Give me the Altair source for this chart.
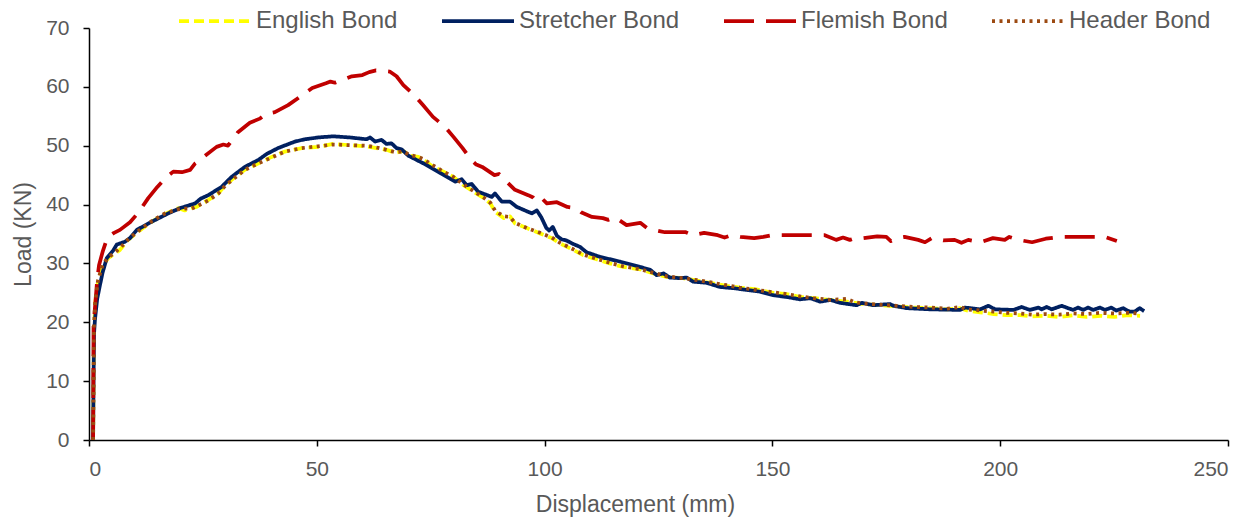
import altair as alt
import pandas as pd

series_names = ["English Bond", "Stretcher Bond", "Flemish Bond", "Header Bond"]
series_colors = ["#FFFF00", "#002060", "#C00000", "#9C4A12"]
series_dashes = [[10, 5], [1, 0], [30, 12], [3, 4.5]]

x_ticks = [0, 50, 100, 150, 200, 250]
y_ticks = [0, 10, 20, 30, 40, 50, 60, 70]

english = [
    (0.9, 0), (1.0, 10), (1.1, 19), (1.4, 23.5), (2.0, 27), (3.0, 29.5), (4.2, 30.9), (5.7, 31.7),
    (6.8, 32.3), (8.6, 34.0), (10.8, 35.4), (13.8, 37.1), (16.7, 38.4), (19.6, 39.4), (21.0, 39.0),
    (22.5, 39.4), (23.6, 39.6), (26.2, 40.8), (28.4, 41.9), (29.9, 43.3), (32.1, 44.7), (34.2, 45.9),
    (37.2, 47.0), (40.1, 48.1), (43.0, 49.0), (46.7, 49.6), (50.3, 49.8), (53.6, 50.3), (57.3, 50.1),
    (60.9, 49.9), (63.1, 49.6), (65.3, 49.3), (67.2, 48.8), (69.0, 49.1), (70.5, 48.3), (72.3, 48.1),
    (73.4, 47.6), (75.6, 46.4), (77.8, 45.6), (80.0, 44.7), (82.2, 43.3), (84.4, 42.2), (86.6, 41.1),
    (88.1, 40.2), (89.1, 38.8), (91.0, 37.7), (92.4, 38.0), (93.5, 36.8), (96.1, 36.0), (99.0, 35.1),
    (101.6, 34.3), (103.4, 33.4), (106.3, 32.3), (108.5, 31.4), (111.4, 30.7), (114.3, 30.0),
    (117.3, 29.4), (121.0, 29.0), (123.9, 28.3), (126.8, 27.7), (130.4, 27.5), (134.0, 27.0),
    (137.0, 26.6), (139.9, 26.2), (142.8, 25.9), (146.5, 25.6), (150.2, 25.0), (153.1, 24.8),
    (156.1, 24.3), (159.0, 24.1), (162.7, 23.8), (166.3, 23.5), (170.0, 23.1), (173.6, 22.9),
    (177.3, 22.7), (180.9, 22.5), (184.6, 22.4), (188.3, 22.2), (191.2, 22.4), (192.7, 22.0),
    (195.6, 21.7), (198.6, 21.4), (201.5, 21.2), (204.4, 21.2), (207.0, 21.0), (210.0, 21.1),
    (213.0, 20.9), (216.0, 21.2), (219.0, 20.9), (222.0, 21.1), (225.0, 20.9), (228.0, 21.2),
    (230.7, 21.1),
]

stretcher = [
    (0.9, 0), (1.0, 10), (1.1, 18), (1.3, 20.4), (1.8, 24), (2.4, 26.3), (3.0, 28.5), (3.9, 30.9),
    (5.3, 32.2), (6.1, 33.2), (7.9, 33.7), (9.0, 34.3), (10.5, 35.7), (13.8, 37.1), (17.4, 38.5),
    (20.0, 39.4), (23.3, 40.2), (24.5, 41.0), (26.2, 41.6), (29.1, 43.0), (31.3, 44.7), (34.2, 46.4),
    (37.2, 47.6), (39.0, 48.6), (41.5, 49.6), (45.2, 50.7), (47.4, 51.1), (50.3, 51.4), (53.6, 51.6),
    (57.3, 51.4), (60.9, 51.1), (61.7, 51.4), (62.8, 50.7), (64.2, 51.0), (65.3, 50.3), (66.4, 50.4),
    (67.5, 49.6), (68.6, 49.4), (70.1, 48.3), (73.4, 47.0), (77.0, 45.4), (80.4, 43.9), (81.8, 44.3),
    (82.9, 43.3), (84.0, 43.5), (85.4, 42.2), (88.4, 41.3), (89.1, 41.9), (90.6, 40.5), (92.4, 40.5),
    (93.9, 39.6), (97.2, 38.5), (98.3, 39.0), (99.3, 37.8), (100.4, 36.0), (101.0, 35.6), (101.8, 36.2),
    (102.7, 34.7), (103.7, 34.1), (104.8, 33.9), (106.3, 33.3), (107.8, 32.8), (109.2, 31.9),
    (112.2, 31.1), (116.6, 30.3), (121.0, 29.4), (123.2, 28.9), (124.6, 28.0), (126.1, 28.3),
    (127.5, 27.6), (129.7, 27.5), (131.2, 27.6), (132.6, 26.9), (135.6, 26.7), (138.5, 26.0),
    (141.4, 25.8), (144.4, 25.5), (147.3, 25.2), (150.2, 24.6), (153.1, 24.3), (156.1, 23.9),
    (158.3, 24.1), (160.5, 23.5), (162.7, 23.8), (164.9, 23.3), (168.5, 22.9), (169.6, 23.3),
    (172.2, 22.9), (175.8, 23.1), (176.6, 22.8), (179.5, 22.4), (184.6, 22.2), (191.2, 22.1),
    (192.3, 22.5), (195.6, 22.2), (197.4, 22.8), (198.9, 22.2), (202.9, 22.1), (204.7, 22.6),
    (206.5, 22.1), (208.4, 22.5), (209.1, 22.2), (210.2, 22.6), (211.3, 22.2), (213.5, 22.8),
    (214.9, 22.4), (216.0, 22.1), (217.1, 22.5), (218.2, 22.1), (219.3, 22.5), (220.4, 22.1),
    (221.9, 22.5), (223.0, 22.1), (224.4, 22.5), (225.5, 22.0), (227.0, 22.4), (228.4, 21.8),
    (229.5, 21.8), (230.6, 22.4), (231.6, 21.9),
]

flemish = [
    (0.9, 0), (0.95, 10), (1.0, 19.5), (1.3, 22.4), (1.8, 27.2), (2.2, 29.7), (3.0, 32.0), (4.0, 34.3),
    (5.5, 35.2), (6.8, 35.7), (9.0, 37.0), (10.8, 38.6), (13.0, 41.1), (15.0, 43.0), (17.0, 44.7),
    (18.5, 45.6), (20.4, 45.5), (22.2, 45.9), (23.3, 47.0), (25.0, 48.0), (28.0, 49.8), (29.5, 50.2),
    (30.5, 50.0), (32.7, 52.3), (35.3, 53.9), (37.5, 54.6), (38.8, 55.4), (40.8, 55.7), (43.7, 56.9),
    (46.3, 58.3), (49.0, 59.8), (52.0, 60.6), (53.0, 60.9), (54.0, 60.7), (57.7, 61.8), (60.0, 62.0),
    (61.5, 62.5), (63.0, 62.8), (66.0, 62.6), (67.5, 61.8), (69.0, 60.3), (71.5, 58.5), (73.3, 56.9),
    (75.5, 54.9), (78.0, 53.3), (80.0, 51.5), (82.0, 49.6), (84.0, 47.5), (85.0, 46.8), (86.3, 46.4),
    (89.0, 45.0), (90.0, 45.2), (91.5, 44.0), (93.5, 42.5), (96.4, 41.6), (97.5, 41.2), (98.5, 40.4),
    (99.6, 40.9), (100.5, 40.2), (102.7, 40.4), (105.0, 39.6), (107.0, 39.4), (108.0, 38.7),
    (110.4, 37.9), (112.8, 37.7), (114.0, 37.4), (115.5, 37.8), (118.0, 36.5), (121.0, 36.9),
    (122.5, 36.0), (124.0, 35.7), (126.4, 35.3), (129.0, 35.3), (131.0, 35.3), (132.5, 34.8),
    (135.0, 35.2), (138.0, 34.8), (139.5, 34.4), (141.0, 34.8), (143.0, 34.5), (146.0, 34.3),
    (148.0, 34.5), (150.0, 34.8), (152.0, 34.8), (155.4, 34.8), (161.5, 34.8), (164.0, 34.0),
    (165.5, 34.4), (167.0, 34.0), (168.5, 34.4), (170.0, 34.3), (173.0, 34.6), (175.0, 34.5),
    (176.0, 33.8), (177.5, 34.3), (179.0, 34.5), (182.0, 34.0), (183.5, 33.6), (185.0, 34.3),
    (187.5, 33.9), (190.0, 34.0), (191.5, 33.5), (193.0, 34.0), (195.6, 33.6), (198.4, 34.3),
    (201.0, 34.0), (202.0, 34.5), (204.0, 34.0), (207.0, 33.6), (210.0, 34.2), (213.0, 34.5),
    (216.4, 34.5), (220.0, 34.5), (223.0, 34.5), (225.6, 33.8),
]

header = [
    (0.9, 0), (1.0, 10), (1.1, 19.5), (1.4, 23.8), (2.0, 27.2), (3.0, 29.8), (4.2, 31.0), (5.7, 31.9),
    (6.8, 32.6), (8.6, 34.1), (10.8, 35.5), (13.8, 37.2), (16.7, 38.5), (19.6, 39.2), (21.0, 39.3),
    (22.5, 39.3), (23.6, 39.7), (26.2, 40.7), (28.4, 41.9), (29.9, 43.2), (32.1, 44.6), (34.2, 45.9),
    (37.2, 47.0), (40.1, 48.0), (43.0, 49.0), (46.7, 49.6), (50.3, 49.9), (53.6, 50.2), (57.3, 50.1),
    (60.9, 50.0), (63.1, 49.7), (65.3, 49.3), (67.2, 48.9), (69.0, 49.0), (70.5, 48.4), (72.3, 48.1),
    (73.4, 47.7), (75.6, 46.6), (77.8, 45.6), (80.0, 44.7), (82.2, 43.4), (84.4, 42.3), (86.6, 41.2),
    (88.1, 40.3), (89.1, 39.0), (91.0, 38.0), (92.4, 37.9), (93.5, 36.9), (96.1, 36.0), (99.0, 35.2),
    (101.6, 34.4), (103.4, 33.5), (106.3, 32.4), (108.5, 31.5), (111.4, 30.8), (114.3, 30.1),
    (117.3, 29.5), (121.0, 29.0), (123.9, 28.4), (126.8, 27.8), (130.4, 27.5), (134.0, 27.1),
    (137.0, 26.7), (139.9, 26.3), (142.8, 25.9), (146.5, 25.5), (150.2, 25.1), (153.1, 24.8),
    (156.1, 24.4), (159.0, 24.1), (162.7, 23.8), (166.3, 24.0), (168.0, 23.4), (170.0, 23.2),
    (173.6, 23.0), (177.3, 22.8), (180.9, 22.6), (184.6, 22.5), (188.3, 22.3), (191.2, 22.6),
    (192.7, 22.2), (195.6, 22.0), (198.6, 21.8), (201.5, 21.6), (204.4, 21.5), (207.0, 21.3),
    (210.0, 21.4), (213.0, 21.3), (216.0, 21.5), (219.0, 21.4), (222.0, 21.6), (225.0, 21.5),
    (228.0, 21.6), (230.7, 21.5),
]

series_data = {
    "English Bond": english,
    "Stretcher Bond": stretcher,
    "Flemish Bond": flemish,
    "Header Bond": header,
}

rows = []
for name, pts in series_data.items():
    for i, (xv, yv) in enumerate(pts):
        rows.append({"series": name, "x": xv, "y": yv, "idx": i})
df = pd.DataFrame(rows)

FONT = "Liberation Sans"
GREY = "#595959"

base = alt.Chart(df)


def layer(name):
    return (
        base.transform_filter(alt.datum.series == name)
        .mark_line(strokeWidth=3.75, strokeJoin="round")
        .encode(
            x=alt.X(
                "x:Q",
                scale=alt.Scale(domain=[0, 250], nice=False, zero=True),
                axis=alt.Axis(values=x_ticks, title="Displacement (mm)", titleX=546),
            ),
            y=alt.Y(
                "y:Q",
                scale=alt.Scale(domain=[0, 70], nice=False, zero=True),
                axis=alt.Axis(values=y_ticks, title="Load  (KN)"),
            ),
            color=alt.Color(
                "series:N",
                scale=alt.Scale(domain=series_names, range=series_colors),
                legend=alt.Legend(title=None),
            ),
            strokeDash=alt.StrokeDash(
                "series:N",
                scale=alt.Scale(domain=series_names, range=series_dashes),
                legend=alt.Legend(title=None),
            ),
            order=alt.Order("idx:Q"),
        )
    )


chart = (
    alt.layer(*[layer(n) for n in series_names])
    .properties(
        width=1139,
        height=412,
        autosize=alt.AutoSizeParams(type="none"),
        padding={"left": 89, "top": 28, "right": 32, "bottom": 83},
    )
    .configure_view(stroke=None)
    .configure_axis(
        grid=False,
        domainColor="black",
        domainWidth=1.5,
        tickColor="black",
        tickWidth=1.5,
        tickSize=6,
        labelFont=FONT,
        labelFontSize=21,
        labelColor=GREY,
        titleFont=FONT,
        titleFontSize=23,
        titleFontWeight="normal",
        titleColor=GREY,
    )
    .configure_axisX(labelPadding=12, titlePadding=14)
    .configure_axisY(labelPadding=14, titlePadding=10)
    .configure_legend(
        orient="none",
        legendX=88,
        legendY=-45,
        direction="horizontal",
        columns=4,
        columnPadding=36,
        labelOffset=3,
        labelLimit=400,
        symbolType="stroke",
        symbolSize=5184,
        symbolStrokeWidth=3.75,
        labelFont=FONT,
        labelFontSize=24,
        labelColor=GREY,
    )
)

chart.save("out.html", embed_options={"renderer": "svg", "actions": False})
